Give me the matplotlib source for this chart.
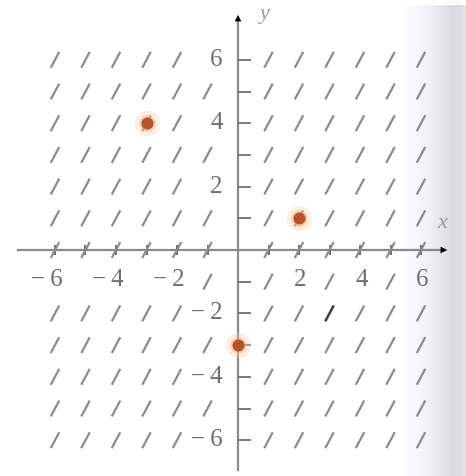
import numpy as np
import matplotlib
matplotlib.use("Agg")
import matplotlib.pyplot as plt
from matplotlib.collections import LineCollection

# ---- data ----
grid_x = list(range(-6, 7))
grid_y = list(range(-6, 7))
slope = 1.8                      # constant slope of the direction field
points_x = [-3, 2, 0]            # highlighted points
points_y = [4, 1, -3]
xtick_vals = [-6, -4, -2, 2, 4, 6]
ytick_vals = [-6, -4, -2, 2, 4, 6]
xtick_labels = ["\u2212\u20096", "\u2212\u20094", "\u2212\u20092", "2", "4", "6"]
ytick_labels = ["\u2212\u20096", "\u2212\u20094", "\u2212\u20092", "2", "4", "6"]
dark_cells = [(3, -2)]

W, H = 466, 476
fig = plt.figure(figsize=(W / 100, H / 100), dpi=100)

# background with gray shading on the right
bg = fig.add_axes([0, 0, 1, 1])
bg.set_axis_off()
px = np.arange(W)
prof = np.interp(px, [0, 398, 430, 452, 460, 466], [1.0, 1.0, 0.93, 0.85, 0.86, 0.89])
img = np.ones((H, W, 3))
img[:, :, 0] = prof[None, :]
img[:, :, 1] = prof[None, :] + 0.01
img[:, :, 2] = prof[None, :] + 0.025
img = np.clip(img, 0, 1)
img[:5, :, :] = 1.0
bg.imshow(img, aspect="auto", extent=[0, W, H, 0])

ax = fig.add_axes([0, 0, 1, 1])
ax.set_facecolor("none")
ux, uy = 30.5, 31.7     # pixels per unit
ox, oy = 238, 250       # origin pixel
ax.set_xlim(-ox / ux, (W - ox) / ux)
ax.set_ylim(-(H - oy) / uy, oy / uy)
ax.set_axis_off()

# skipped cells (where labels sit)
skip = set()
for v in xtick_vals:
    skip.add((v, -1))
for v in [-5, -3]:
    skip.add((v, -1))
for v in ytick_vals:
    skip.add((-1, v))

# direction-field segments
half_px = 9.0
ang = np.arctan(slope * uy / ux)
dxp, dyp = half_px * np.cos(ang), half_px * np.sin(ang)
dx, dy = dxp / ux, dyp / uy
segs, dsegs = [], []
for gx in grid_x:
    for gy in grid_y:
        if gx == 0:
            continue
        if (gx, gy) in skip:
            continue
        s = [(gx - dx, gy - dy), (gx + dx, gy + dy)]
        if (gx, gy) in dark_cells:
            dsegs.append(s)
        else:
            segs.append(s)
ax.add_collection(LineCollection(segs, colors="#8c8c8c", linewidths=1.6, zorder=3))
ax.add_collection(LineCollection(dsegs, colors="#3c3c3c", linewidths=1.8, zorder=3))

# axes lines
axcol = "#8a8a8a"
ax.plot([(18 - ox) / ux, (440 - ox) / ux], [0, 0], color=axcol, lw=1.6, zorder=2)
ax.plot([0, 0], [-(470 - oy) / uy, (oy - 22) / uy], color=axcol, lw=1.6, zorder=2)
ax.annotate("", xy=((450 - ox) / ux, 0), xytext=((436 - ox) / ux, 0),
            arrowprops=dict(arrowstyle="-|>", color="black", lw=0, mutation_scale=12), zorder=5)
ax.annotate("", xy=(0, (oy - 12) / uy), xytext=(0, (oy - 26) / uy),
            arrowprops=dict(arrowstyle="-|>", color="black", lw=0, mutation_scale=12), zorder=5)

# ticks
for gx in grid_x:
    if gx == 0:
        continue
    ax.plot([gx, gx], [-0.13, 0.13], color="#6a6a6a", lw=1.4, zorder=2)
for gy in grid_y:
    if gy == 0:
        continue
    ax.plot([0, 0.38], [gy, gy], color="#7a7a7a", lw=1.4, zorder=2)

# tick labels
tcol = "#6e6e6e"
font = dict(family=["Liberation Serif", "DejaVu Serif"], size=18, color=tcol)
for v, lab in zip(xtick_vals, xtick_labels):
    ax.text(v + 0.25, -0.95, lab, ha="right", va="center", **font)
for v, lab in zip(ytick_vals, ytick_labels):
    ax.text(-0.5, v, lab, ha="right", va="center", **font)

ax.text((265 - ox) / ux, (oy - 14) / uy, "y", ha="center", va="center",
        family="Liberation Serif", style="italic", size=16, color="#9a9a9a")
ax.text((442 - ox) / ux, (oy - 224) / uy, "x", ha="center", va="center",
        family="Liberation Serif", style="italic", size=16, color="#9a9a9a")

# highlighted points with glow
ax.scatter(points_x, points_y, s=330, color="#f9d2a8", alpha=0.35, lw=0, zorder=4)
ax.scatter(points_x, points_y, s=140, color="#f0a878", alpha=0.45, lw=0, zorder=4)
ax.scatter(points_x, points_y, s=75, color="#b4532c", lw=0, zorder=5)

fig.savefig("out.png", dpi=100)
